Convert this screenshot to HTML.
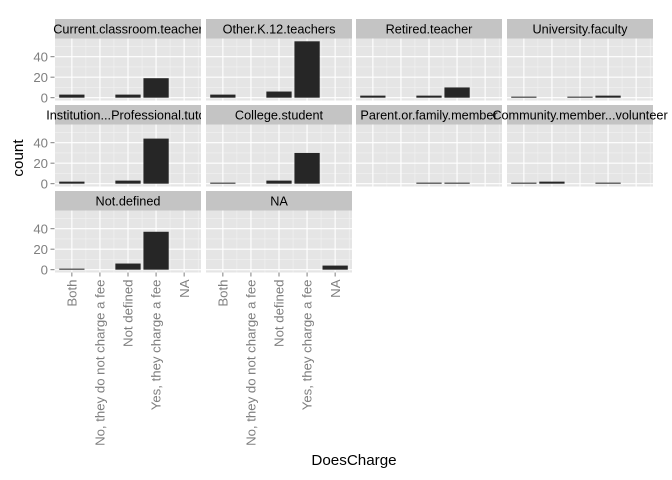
<!DOCTYPE html>
<html><head><meta charset="utf-8"><style>
html,body{margin:0;padding:0;background:#fff;}
svg{display:block;font-family:"Liberation Sans",sans-serif;}
</style></head><body>
<svg id="chart" width="672" height="480"></svg>
<script>
const categories = ["Both","No, they do not charge a fee","Not defined","Yes, they charge a fee","NA"];
const facets = ["Current.classroom.teacher","Other.K.12.teachers","Retired.teacher","University.faculty","Institution...Professional.tutor","College.student","Parent.or.family.member","Community.member...volunteer","Not.defined","NA"];
const currentTeacher = [3,0,3,19,0];
const otherK12 = [3,0,6,55,0];
const retired = [2,0,2,10,0];
const university = [1,0,1,2,0];
const institution = [2,0,3,44,0];
const college = [1,0,3,30,0];
const parent = [0,0,1,1,0];
const community = [1,2,0,1,0];
const notDefined = [1,0,6,37,0];
const naFacet = [0,0,0,0,4];
const seriesValues = [currentTeacher,otherK12,retired,university,institution,college,parent,community,notDefined,naFacet];
const yTicks = [0,20,40];
const yMinor = [10,30,50];

const NS="http://www.w3.org/2000/svg";
const svg=document.getElementById('chart');
function mk(tag,attrs,parent){const e=document.createElementNS(NS,tag);for(const k in attrs)e.setAttribute(k,attrs[k]);(parent||svg).appendChild(e);return e;}
const colX=[55,206,356,507], pw=146;
const stripY=[19,105,191], sh=19.5, ph=62;
const yMax=Math.max(...seriesValues.flat());
const yLo=-yMax*0.05, yHi=yMax*1.05;
const defs=mk('defs',{});
facets.forEach((name,i)=>{
  const r=Math.floor(i/4), c=i%4;
  const x0=colX[c], sy=stripY[r], py=sy+sh;
  const g=mk('g',{});
  
  
  const yS=v=>py+ph-(v-yLo)/(yHi-yLo)*ph;
  const xS=k=>x0+(k+0.6)/5.2*pw;
  const bw=0.9/5.2*pw;
  const strip=mk('rect',{x:x0,y:sy,width:pw,height:sh,fill:'#C4C4C4'},g);
  
  
  const cp=mk('clipPath',{id:'cp'+i},defs);
  mk('rect',{x:c===3?0:-1000,y:sy,width:c===3?672:x0+pw+1000,height:sh},cp);
  const st=mk('text',{x:x0+pw/2,y:sy+sh/2+4.6,'text-anchor':'middle','font-size':'12.7',fill:'#000','clip-path':'url(#cp'+i+')'},g);
  st.textContent=name;
  
  
  const bg=mk('rect',{x:x0,y:py,width:pw,height:ph,fill:'#E5E5E5'},g);
  
  
  yMinor.forEach(v=>mk('line',{x1:x0,x2:x0+pw,y1:yS(v),y2:yS(v),stroke:'#F2F2F2','stroke-width':0.6},g));
  [0.5,1.5,2.5,3.5,4.5].forEach(k=>mk('line',{x1:x0+(k+0.6)/5.2*pw,x2:x0+(k+0.6)/5.2*pw,y1:py,y2:py+ph,stroke:'#F2F2F2','stroke-width':0.6},g));
  yTicks.forEach(v=>mk('line',{x1:x0,x2:x0+pw,y1:yS(v),y2:yS(v),stroke:'#fff','stroke-width':1.1},g));
  categories.forEach((_,k)=>mk('line',{x1:xS(k),x2:xS(k),y1:py,y2:py+ph,stroke:'#fff','stroke-width':1.1},g));
  seriesValues[i].forEach((v,k)=>{
    if(v<=0)return;
    const b=mk('rect',{x:xS(k)-bw/2,y:yS(v),width:bw,height:yS(0)-yS(v),fill:'#262626'},g);
    
    
  });
  if(c===0){
    yTicks.forEach(v=>{
      mk('line',{x1:50.5,x2:54.5,y1:yS(v),y2:yS(v),stroke:'#7F7F7F','stroke-width':1},g);
      const t=mk('text',{x:48,y:yS(v)+4.6,'text-anchor':'end','font-size':'13.2',fill:'#7F7F7F'},g);
      t.textContent=v;
      
      
    });
  }
  if(r===2){
    categories.forEach((lab,k)=>{
      mk('line',{x1:xS(k),x2:xS(k),y1:py+ph,y2:py+ph+4,stroke:'#7F7F7F','stroke-width':1},g);
      const t=mk('text',{x:0,y:0,'text-anchor':'end','font-size':'13.2',fill:'#7F7F7F',transform:`translate(${xS(k)+4.6},${py+ph+7}) rotate(-90)`},g);
      t.textContent=lab;
      
      
    });
  }
});
const xt=mk('text',{x:354,y:465,'text-anchor':'middle','font-size':'15.2',fill:'#000'});
xt.textContent='DoesCharge';


const yt=mk('text',{x:0,y:0,'text-anchor':'middle','font-size':'15.2',fill:'#000',transform:'translate(23,158) rotate(-90)'});
yt.textContent='count';


</script>
</body></html>
